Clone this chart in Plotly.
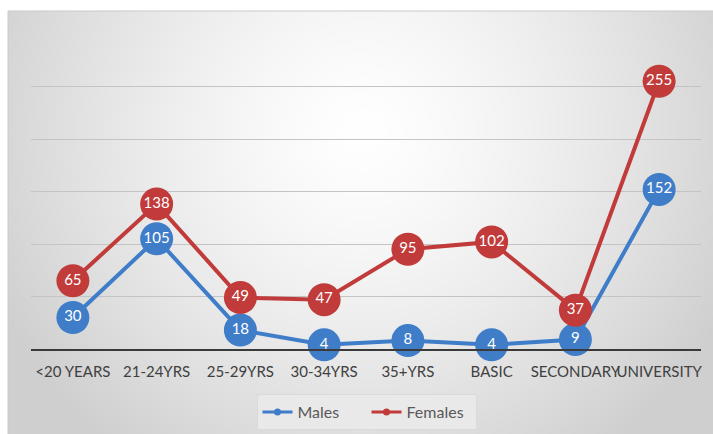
import base64, struct, zlib
import numpy as np
import plotly.graph_objects as go

categories = ["<20 YEARS", "21-24YRS", "25-29YRS", "30-34YRS", "35+YRS", "BASIC", "SECONDARY", "UNIVERSITY"]
males = [30, 105, 18, 4, 8, 4, 9, 152]
females = [65, 138, 49, 47, 95, 102, 37, 255]

W, H = 713, 434
L, R, T, B = 31, 12, 34, 85           # margins in px
PW, PH = W - L - R, H - T - B          # plot area size
PX0, PY0 = 8, 11                       # panel top-left in px


def fx(px):  # pixel x -> plot-area fraction
    return (px - L) / PW


def fy(py):  # pixel y -> plot-area fraction
    return (H - B - py) / PH


def gradient_png(w, h):
    yy, xx = np.mgrid[0:h, 0:w].astype(float)
    cx, cy = w * 0.5, h * 0.28
    r = np.sqrt(((xx - cx) / (w * 0.58)) ** 2 + ((yy - cy) / (h * 0.95)) ** 2)
    v = 255 - 48 * np.clip(r, 0, 1) ** 1.4
    img = np.clip(v, 0, 255).astype(np.uint8)
    raw = b"".join(b"\x00" + bytes(np.stack([row, row, row], axis=1).ravel()) for row in img)

    def chunk(t, d):
        c = struct.pack(">I", len(d)) + t + d
        return c + struct.pack(">I", zlib.crc32(t + d) & 0xFFFFFFFF)

    png = b"\x89PNG\r\n\x1a\n" + chunk(b"IHDR", struct.pack(">IIBBBBB", w, h, 8, 2, 0, 0, 0))
    png += chunk(b"IDAT", zlib.compress(raw, 9)) + chunk(b"IEND", b"")
    return "data:image/png;base64," + base64.b64encode(png).decode()


BLUE = "#3f7dc9"
RED = "#c13b3b"
FONT = "Lato, sans-serif"

fig = go.Figure()
for name, vals, col in [("Males", males, BLUE), ("Females", females, RED)]:
    fig.add_trace(go.Scatter(
        x=categories, y=vals, mode="lines+markers+text", name=name,
        text=[str(v) for v in vals], textposition="middle center",
        textfont=dict(color="white", size=15, family=FONT),
        line=dict(color=col, width=4),
        marker=dict(color=col, size=33, line=dict(width=0)),
        cliponaxis=False, showlegend=False,
    ))
for name, col in [("Males", BLUE), ("Females", RED)]:
    fig.add_trace(go.Scatter(
        x=[None], y=[None], mode="lines+markers", name=name,
        line=dict(color=col, width=3), marker=dict(color=col, size=7),
    ))

fig.add_layout_image(dict(
    source=gradient_png(176, 106), xref="paper", yref="paper",
    x=fx(PX0), y=fy(PY0), sizex=fx(W) - fx(PX0), sizey=fy(PY0) - fy(H),
    xanchor="left", yanchor="top", sizing="stretch", layer="below",
))
fig.add_shape(type="rect", xref="paper", yref="paper",
              x0=fx(PX0), x1=fx(W + 2), y0=fy(H + 2), y1=fy(PY0),
              line=dict(color="#c9c9c9", width=1), fillcolor="rgba(0,0,0,0)", layer="below")

fig.update_layout(
    width=W, height=H,
    margin=dict(l=L, r=R, t=T, b=B, autoexpand=False),
    paper_bgcolor="white", plot_bgcolor="rgba(0,0,0,0)",
    font=dict(family=FONT, color="#595959"),
    xaxis=dict(
        type="category", range=[-0.5, len(categories) - 0.5],
        showgrid=False, showline=True, linecolor="#3a3a3a", linewidth=2,
        ticks="outside", ticklen=8, tickcolor="rgba(0,0,0,0)", tickangle=0,
        tickfont=dict(size=15, color="#404040", family=FONT), zeroline=False,
    ),
    yaxis=dict(
        range=[0, 300], dtick=50, showgrid=True, gridcolor="#c4c4c4", gridwidth=1,
        showticklabels=False, zeroline=False, showline=False,
    ),
    legend=dict(
        orientation="h", x=fx(366.5), xanchor="center", y=fy(394), yanchor="top",
        bgcolor="#e9e9e9", bordercolor="#dadada", borderwidth=1,
        font=dict(size=16, color="#595959", family=FONT),
        entrywidth=64, entrywidthmode="pixels",
    ),
)

fig.write_html("out.html", config={"displayModeBar": False},
               post_script="document.body.style.margin='0';")
